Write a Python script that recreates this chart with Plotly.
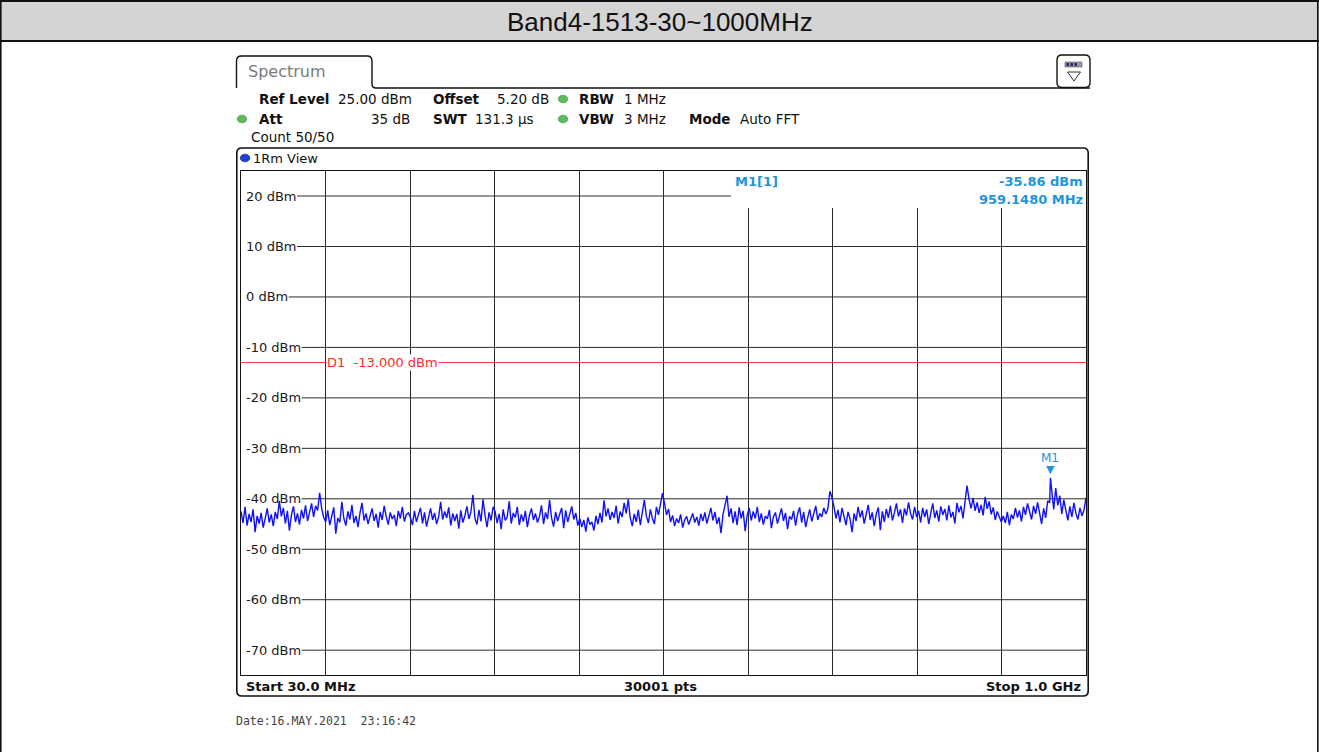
import numpy as np
import plotly.graph_objects as go

# ---------------------------------------------------------------- data
START_MHZ = 30.0
STOP_MHZ = 1000.0
REF_LEVEL = 25.0
BOTTOM_LEVEL = -75.0
LEVEL_TICKS = [20, 10, 0, -10, -20, -30, -40, -50, -60, -70]
LEVEL_LABELS = [f"{v} dBm" for v in LEVEL_TICKS]
DISPLAY_LINE_DBM = -13.0
MARKER_FREQ_MHZ = 959.148
MARKER_LEVEL_DBM = -35.86

# measured trace (dBm), one division of the 10-division span per row block
TRACE_DBM = [
    # 30 - 127 MHz
    -42.5, -44.8, -41.6, -45.3, -43.0, -44.6, -42.1, -46.6, -43.4, -44.9,
    -42.8, -45.7, -43.9, -41.9, -44.7, -43.1, -45.4, -42.6, -44.0, -40.4,
    -43.5, -41.8, -44.9, -42.4, -46.3, -43.2, -41.5, -44.6, -42.9, -45.1,
    -42.2, -43.9, -41.3, -44.4, -42.7, -40.9, -43.6, -41.4, -42.3, -38.8,
    -41.9, -43.7,
    # 127 - 224 MHz
    -44.6, -42.3, -45.2, -43.1, -41.7, -46.9, -43.8, -44.7, -40.6, -43.9,
    -45.3, -42.5, -44.1, -41.2, -44.8, -43.4, -45.6, -42.8, -40.8, -44.3,
    -42.9, -45.0, -43.6, -41.9, -44.4, -43.0, -45.7, -42.6, -44.2, -41.4,
    -43.5, -45.1, -42.7, -44.0, -43.2, -45.4, -42.4, -43.9, -41.6, -44.5,
    -43.1, -42.8,
    # 224 - 321 MHz
    -43.7, -45.2, -42.4, -44.6, -43.1, -41.8, -44.9, -42.7, -45.5, -43.3,
    -41.9, -44.2, -42.8, -45.0, -43.6, -40.6, -44.1, -42.5, -43.8, -41.7,
    -45.3, -42.9, -44.4, -43.0, -45.9, -42.3, -44.7, -43.4, -41.5, -44.0,
    -42.6, -39.2, -43.9, -45.1, -42.2, -44.5, -40.1, -43.3, -45.6, -42.7,
    -44.3, -41.6,
    # 321 - 418 MHz
    -42.5, -44.8, -43.0, -46.0, -42.1, -44.3, -43.6, -40.5, -44.9, -42.8,
    -43.7, -41.6, -45.2, -43.1, -44.5, -42.4, -45.6, -43.3, -41.9, -44.2,
    -42.9, -44.7, -43.5, -41.3, -45.0, -42.7, -44.0, -40.2, -43.8, -45.5,
    -42.6, -44.4, -43.0, -41.8, -45.8, -42.3, -44.6, -43.2, -41.5, -44.1,
    -42.8, -45.3,
    # 418 - 515 MHz
    -43.9, -45.6, -44.2, -46.5, -43.7, -45.1, -44.6, -46.3, -43.4, -45.0,
    -42.8, -44.7, -40.3, -43.5, -41.9, -44.2, -42.6, -43.8, -41.4, -44.9,
    -42.5, -43.6, -40.8, -42.9, -40.1, -43.7, -45.4, -43.0, -44.6, -42.2,
    -45.2, -42.7, -40.2, -43.4, -44.8, -42.1, -43.9, -45.0, -41.6, -43.2,
    -40.6, -38.9,
    # 515 - 612 MHz
    -40.9, -43.2, -42.0, -44.6, -43.3, -45.4, -43.9, -44.8, -43.1, -45.7,
    -44.2, -43.5, -45.1, -44.0, -42.9, -44.7, -43.6, -45.3, -43.0, -44.4,
    -42.7, -44.9, -43.4, -41.8, -44.3, -42.6, -45.0, -43.7, -46.8, -43.1,
    -41.3, -39.4, -43.6, -41.9, -44.8, -42.5, -45.2, -41.7, -43.9, -42.4,
    -46.4, -43.3,
    # 612 - 709 MHz
    -41.8, -44.3, -42.5, -43.9, -41.6, -44.6, -42.9, -45.1, -43.4, -44.0,
    -42.2, -45.8, -43.6, -42.7, -44.9, -43.2, -41.9, -44.4, -42.8, -46.0,
    -43.5, -44.1, -42.4, -45.3, -43.0, -41.7, -44.7, -42.6, -45.6, -43.8,
    -42.1, -44.5, -43.1, -41.4, -44.2, -42.9, -43.6, -41.8, -43.0, -42.0,
    -38.5, -39.7,
    # 709 - 806 MHz
    -41.5, -43.9, -42.2, -44.7, -41.8, -43.4, -45.2, -42.6, -44.0, -46.6,
    -42.9, -44.4, -41.6, -43.7, -42.3, -44.9, -43.1, -41.2, -44.2, -42.7,
    -45.4, -43.0, -41.7, -46.2, -42.5, -44.6, -42.0, -43.8, -41.4, -44.3,
    -42.8, -40.9, -43.5, -42.1, -44.8, -41.9, -43.3, -40.7, -42.9, -44.1,
    -41.6, -43.6,
    # 806 - 903 MHz
    -42.4, -44.7, -41.8, -43.6, -42.1, -45.0, -42.9, -40.9, -43.8, -42.3,
    -44.5, -41.5, -43.2, -42.0, -44.3, -41.3, -43.7, -42.6, -44.9, -40.8,
    -42.7, -41.4, -43.9, -40.6, -37.4, -40.1, -41.9, -39.8, -42.4, -40.7,
    -42.8, -41.2, -43.3, -39.6, -42.0, -40.5, -43.1, -41.7, -44.2, -42.5,
    -43.6, -44.6,
    # 903 - 1000 MHz
    -43.4, -44.8, -42.6, -45.2, -43.1, -44.0, -41.8, -43.7, -42.3, -44.5,
    -41.6, -43.2, -40.9, -42.8, -44.1, -41.4, -43.0, -40.7, -42.6, -45.0,
    -41.9, -43.8, -40.4, -40.8, -38.2, -42.1, -37.9, -41.3, -39.4, -43.0,
    -40.2, -42.7, -44.3, -41.5, -43.6, -40.8, -42.9, -44.1, -41.8, -43.4,
    -42.2, -39.8,
]

# sweep points evenly spread over the span, plus the marker peak itself
freq = list(np.linspace(START_MHZ, STOP_MHZ, len(TRACE_DBM)))
level = list(TRACE_DBM)
ins = int(np.searchsorted(freq, MARKER_FREQ_MHZ))
freq.insert(ins, MARKER_FREQ_MHZ)
level.insert(ins, MARKER_LEVEL_DBM)

# ---------------------------------------------------------------- geometry helpers
W, H = 1319, 752
PLOT_L, PLOT_R, PLOT_T, PLOT_B = 241, 1086, 170.8, 675.4


def X(px):
    return px / W


def Y(py):
    return 1 - py / H


def P(px, py):
    return f"{X(px):.6f},{Y(py):.6f}"


def px_to_freq(px):
    return START_MHZ + (px - PLOT_L) / (PLOT_R - PLOT_L) * (STOP_MHZ - START_MHZ)


def py_to_level(py):
    return REF_LEVEL - (py - PLOT_T) / (PLOT_B - PLOT_T) * (REF_LEVEL - BOTTOM_LEVEL)


def rounded_rect(x0, y0, x1, y1, r):
    return (f"M {P(x0 + r, y0)} L {P(x1 - r, y0)} Q {P(x1, y0)} {P(x1, y0 + r)} "
            f"L {P(x1, y1 - r)} Q {P(x1, y1)} {P(x1 - r, y1)} L {P(x0 + r, y1)} "
            f"Q {P(x0, y1)} {P(x0, y1 - r)} L {P(x0, y0 + r)} Q {P(x0, y0)} {P(x0 + r, y0)} Z")


SANS = "DejaVu Sans"
INK = "#111111"
MARK_BLUE = "#1e96dc"

annotations = []
shapes = []


def text(px, py, s, size=13.5, color=INK, anchor="left", family=SANS, **kw):
    annotations.append(dict(
        x=X(px), y=Y(py), xref="paper", yref="paper", text=s, showarrow=False,
        xanchor=anchor, yanchor="middle", font=dict(family=family, size=size, color=color), **kw))


def dot(cx, cy, fill, edge):
    shapes.append(dict(type="circle", xref="paper", yref="paper", layer="above",
                       x0=X(cx - 4.8), x1=X(cx + 4.8), y0=Y(cy + 3.8), y1=Y(cy - 3.8),
                       fillcolor=fill, line=dict(color=edge, width=0.6)))


def pline(x0, y0, x1, y1, width=1.0, color=INK):
    shapes.append(dict(type="line", xref="paper", yref="paper", layer="above",
                       x0=X(x0), y0=Y(y0), x1=X(x1), y1=Y(y1),
                       line=dict(color=color, width=width)))


# ---------------------------------------------------------------- figure
fig = go.Figure()
fig.add_trace(go.Scatter(x=freq, y=level, mode="lines",
                         line=dict(color="#1010ff", width=1.4), hoverinfo="skip"))

# header band with the measurement title
shapes.append(dict(type="rect", xref="paper", yref="paper", layer="above",
                   x0=X(0), x1=X(W), y0=Y(41), y1=Y(0),
                   fillcolor="#d4d4d4", line=dict(width=0)))
pline(0, 1, W, 1, width=2)
pline(0, 41, W, 41, width=2.2)
pline(0.8, 0, 0.8, H, width=1.6)
pline(W - 1.2, 0, W - 1.2, H, width=1.6)
text(659.5, 22, "Band4-1513-30~1000MHz", size=26, family="Liberation Sans, Arial", anchor="center")

# "Spectrum" tab and the line it sits on
tab = (f"M {P(236.5, 88)} L {P(236.5, 61)} Q {P(236.5, 56)} {P(241.5, 56)} "
       f"L {P(367, 56)} Q {P(372, 56)} {P(372, 61)} L {P(372, 84)} "
       f"Q {P(372, 88)} {P(376, 88)} L {P(1090, 88)}")
shapes.append(dict(type="path", path=tab, xref="paper", yref="paper", layer="above",
                   fillcolor="rgba(0,0,0,0)", line=dict(color=INK, width=1.4)))
text(246, 72, "Spectrum", size=16, color="#7a7a7a")

# display-settings icon
shapes.append(dict(type="path", path=rounded_rect(1057, 55, 1090, 87.5, 5), xref="paper", yref="paper",
                   layer="above", fillcolor="white", line=dict(color=INK, width=1.4)))
shapes.append(dict(type="rect", xref="paper", yref="paper", layer="above",
                   x0=X(1065), x1=X(1082), y0=Y(67), y1=Y(62),
                   fillcolor="#9a9a9a", line=dict(color="#555555", width=0.6)))
for bx in (1066.5, 1070.5, 1074.5):
    shapes.append(dict(type="rect", xref="paper", yref="paper", layer="above",
                       x0=X(bx), x1=X(bx + 2.5), y0=Y(66), y1=Y(63),
                       fillcolor="#2b2b6b", line=dict(width=0)))
shapes.append(dict(type="path", path=f"M {P(1067.5, 72)} L {P(1080.5, 72)} L {P(1074, 81)} Z",
                   xref="paper", yref="paper", layer="above",
                   fillcolor="white", line=dict(color="#333333", width=1)))

# instrument settings
B = lambda s: f"<b>{s}</b>"
text(257, 99, B("Ref Level"))
text(336, 99, "25.00 dBm")
text(431, 99, B("Offset"))
text(495, 99, "5.20 dB")
dot(563, 99, "#5dbb5d", "#3d8a3d")
text(577, 99, B("RBW"))
text(622, 99, "1 MHz")

dot(242, 119, "#5dbb5d", "#3d8a3d")
text(257, 119, B("Att"))
text(412, 119, "35 dB", anchor="right")
text(431, 119, B("SWT"))
text(473, 119, "131.3 µs")
dot(563, 119, "#5dbb5d", "#3d8a3d")
text(577, 119, B("VBW"))
text(622, 119, "3 MHz")
text(687, 119, B("Mode"))
text(738, 119, "Auto FFT")

text(249, 137, "Count 50/50")

# window frame around the trace display
shapes.append(dict(type="path", path=rounded_rect(236.8, 148, 1088.2, 696, 5), xref="paper", yref="paper",
                   layer="above", fillcolor="rgba(0,0,0,0)", line=dict(color=INK, width=1.6)))
dot(245, 158, "#1f3fd8", "#0d1f70")
text(251, 158, "1Rm View", size=13)

# sweep footer
FOOT_Y = 686
text(244, FOOT_Y, B("Start 30.0 MHz"), size=13)
text(660, FOOT_Y, B("30001 pts"), size=13, anchor="center")
text(1083, FOOT_Y, B("Stop 1.0 GHz"), size=13, anchor="right")

text(234, 721, "Date:16.MAY.2021  23:16:42", size=11.5, color="#444444", family="DejaVu Sans Mono")

# horizontal level lines start just after their text labels
CHAR_EM = {"-": 0.361, " ": 0.318, "d": 0.635, "B": 0.686, "m": 0.974}
LABEL_SIZE = 13
for v, lab in zip(LEVEL_TICKS, LEVEL_LABELS):
    width_px = sum(CHAR_EM.get(c, 0.636) for c in lab) * LABEL_SIZE
    shapes.append(dict(type="line", xref="x", yref="y", layer="between",
                       x0=px_to_freq(245 + width_px + 1.5), x1=STOP_MHZ, y0=v, y1=v,
                       line=dict(color="#2b2b2b", width=1)))
    annotations.append(dict(x=X(244), y=v, xref="paper", yref="y", text=lab, showarrow=False,
                            xanchor="left", yanchor="middle",
                            font=dict(family=SANS, size=LABEL_SIZE, color="#1a1a1a")))

# display line D1
shapes.append(dict(type="line", xref="x", yref="y", layer="between",
                   x0=START_MHZ, x1=STOP_MHZ, y0=DISPLAY_LINE_DBM, y1=DISPLAY_LINE_DBM,
                   line=dict(color="#ff3333", width=1)))
annotations.append(dict(x=px_to_freq(326), y=DISPLAY_LINE_DBM, xref="x", yref="y",
                        text=f"D1  {DISPLAY_LINE_DBM:.3f} dBm", showarrow=False,
                        xanchor="left", yanchor="middle", bgcolor="white", borderpad=0,
                        font=dict(family=SANS, size=13, color="#ff2a2a")))

# marker readout panel (blanks the grid behind it)
shapes.append(dict(type="rect", xref="x", yref="y", layer="between",
                   x0=px_to_freq(731), x1=STOP_MHZ, y0=py_to_level(208), y1=REF_LEVEL,
                   fillcolor="white", line=dict(width=0)))
text(733, 181, B("M1[1]"), size=13, color=MARK_BLUE)
text(1085, 181, B(f"{MARKER_LEVEL_DBM:.2f} dBm"), size=13, color=MARK_BLUE, anchor="right")
text(1085, 199, B(f"{MARKER_FREQ_MHZ:.4f} MHz"), size=13, color=MARK_BLUE, anchor="right")

# marker symbol on the trace
annotations.append(dict(x=MARKER_FREQ_MHZ, y=MARKER_LEVEL_DBM, xref="x", yref="y", text="▼",
                        showarrow=False, xanchor="center", yanchor="bottom", yshift=0,
                        font=dict(family=SANS, size=11, color=MARK_BLUE)))
annotations.append(dict(x=MARKER_FREQ_MHZ, y=MARKER_LEVEL_DBM, xref="x", yref="y", text="M1",
                        showarrow=False, xanchor="center", yanchor="bottom", yshift=11,
                        font=dict(family=SANS, size=12, color=MARK_BLUE)))

fig.update_layout(
    width=W, height=H,
    margin=dict(l=0, r=0, t=0, b=0),
    paper_bgcolor="white", plot_bgcolor="white",
    showlegend=False,
    xaxis=dict(domain=[X(PLOT_L), X(PLOT_R)], range=[START_MHZ, STOP_MHZ],
               showgrid=True, gridcolor="#2b2b2b", gridwidth=1,
               tick0=START_MHZ, dtick=(STOP_MHZ - START_MHZ) / 10,
               showticklabels=False, ticks="", zeroline=False,
               showline=True, linecolor=INK, linewidth=1.2, mirror=True, fixedrange=True),
    yaxis=dict(domain=[Y(PLOT_B), Y(PLOT_T)], range=[BOTTOM_LEVEL, REF_LEVEL],
               showgrid=False, showticklabels=False, ticks="", zeroline=False,
               showline=True, linecolor=INK, linewidth=1.2, mirror=True, fixedrange=True),
    shapes=shapes,
    annotations=annotations,
)

fig.write_html("out.html", config={"displayModeBar": False})
